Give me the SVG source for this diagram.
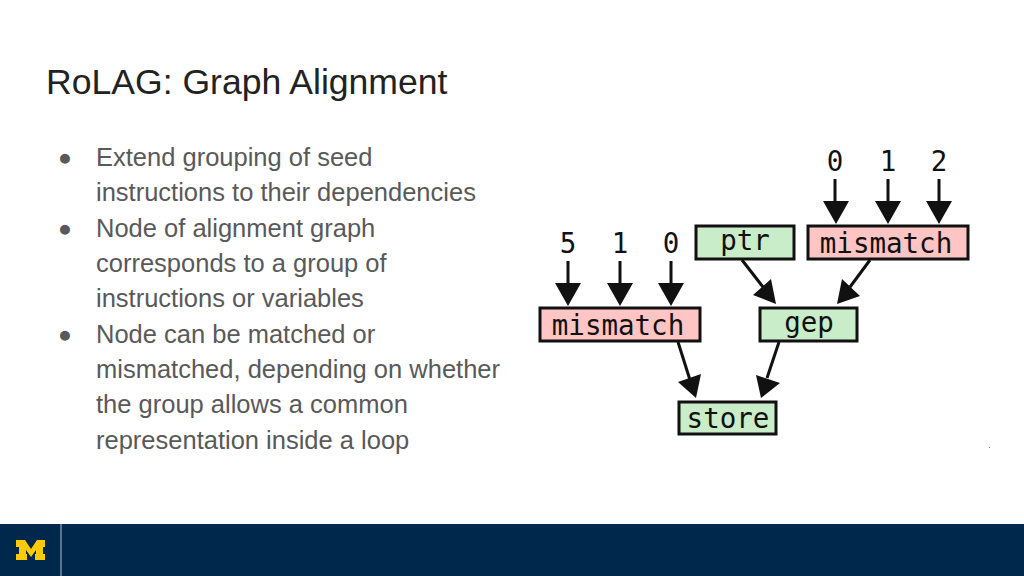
<svg xmlns="http://www.w3.org/2000/svg" width="1024" height="576" viewBox="0 0 1024 576">
<style>
.body{font-family:"Liberation Sans",Arial,sans-serif;font-size:25.5px;fill:#595959}
.bullet{font-family:"Liberation Sans",Arial,sans-serif;font-size:23px;fill:#595959}
.title{font-family:"Liberation Sans",Arial,sans-serif;font-size:35.6px;fill:#222}
.mono{font-family:"DejaVu Sans Mono",monospace;font-size:27.5px;fill:#111;text-anchor:middle}
.box{stroke:#111;stroke-width:3}
.g{fill:#c9ecc9}
.r{fill:#ffc4c4}
.e{stroke:#111;stroke-width:3;fill:none}
.h{fill:#111}
</style>
<rect width="1024" height="576" fill="#fff"/>
<text class="title" x="46" y="94">RoLAG: Graph Alignment</text>
<g id="bullets">
<text class="bullet" x="58" y="165">●</text>
<text class="body" x="96" y="166">Extend grouping of seed</text>
<text class="body" x="96" y="201">instructions to their dependencies</text>
<text class="bullet" x="58" y="236">●</text>
<text class="body" x="96" y="237">Node of alignment graph</text>
<text class="body" x="96" y="272">corresponds to a group of</text>
<text class="body" x="96" y="307">instructions or variables</text>
<text class="bullet" x="58" y="342">●</text>
<text class="body" x="96" y="343">Node can be matched or</text>
<text class="body" x="96" y="378">mismatched, depending on whether</text>
<text class="body" x="96" y="413">the group allows a common</text>
<text class="body" x="96" y="449">representation inside a loop</text>
</g>
<g id="connectors">
<path class="e" d="M835 179V205M888 179V205M939 179V205M568 261V287M620 261V287M671 261V287M742 260L763 287M870 260L850 287M678 342L690 380M779 342L767 378"/>
<path class="h" d="M823 201H849L836 224ZM875 201H901L888 224ZM926 201H952L939 224ZM555 283H581L568 306ZM607 283H633L620 306ZM658 283H684L671 306ZM776 304L753 295L771 279ZM837 304L860 296L842 279ZM696 398L678 382L701 374ZM761 398L756 375L780 383Z"/>
</g>
<g id="n-ptr"><rect class="box g" x="696" y="226" width="98" height="33"/><text class="mono" x="745" y="250">ptr</text></g>
<g id="n-mismatch-top"><rect class="box r" x="808" y="226" width="160" height="33"/><text class="mono" x="886" y="253">mismatch</text></g>
<g id="n-mismatch-left"><rect class="box r" x="540" y="308" width="160" height="33"/><text class="mono" x="618" y="335">mismatch</text></g>
<g id="n-gep"><rect class="box g" x="760" y="308" width="97" height="33"/><text class="mono" x="809" y="332">gep</text></g>
<g id="n-store"><rect class="box g" x="679" y="402" width="97" height="32"/><text class="mono" x="728" y="428">store</text></g>
<g id="labels">
<text class="mono" x="835" y="171">0</text>
<text class="mono" x="888" y="171">1</text>
<text class="mono" x="939" y="171">2</text>
<text class="mono" x="568" y="253">5</text>
<text class="mono" x="620" y="253">1</text>
<text class="mono" x="671" y="253">0</text>
</g>
<rect x="989" y="447" width="1" height="1" fill="#777"/>
<g id="footer">
<rect y="524" width="1024" height="52" fill="#00274c"/>
<rect x="60" y="524" width="2" height="52" fill="#5b7391"/>
<path fill="#ffcb05" d="M16 540H25L31 549L37 540H45V547H43V554H45V560H35V554H36V550L31 557L26 550V554H27V560H16V554H19V547H16Z"/>
</g>
</svg>
